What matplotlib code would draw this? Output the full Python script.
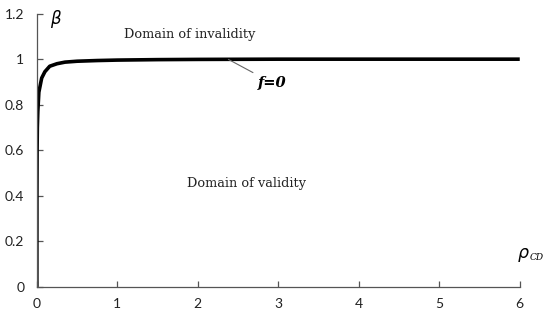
import matplotlib
matplotlib.use('Agg')
import matplotlib.pyplot as plt

# curve f=0
rho = [0, 0.001, 0.003, 0.006, 0.012, 0.025, 0.06, 0.1, 0.16, 0.25, 0.35,
       0.5, 0.75, 1, 1.5, 2, 3, 4, 5, 6]
beta = [0, 0.4, 0.6, 0.7, 0.77, 0.855, 0.917, 0.945, 0.969, 0.98, 0.987,
        0.991, 0.994, 0.996, 0.998, 0.999, 1.0, 1.0, 1.0, 1.0]

x_ticks = [0, 1, 2, 3, 4, 5, 6]
y_ticks = [0, 0.2, 0.4, 0.6, 0.8, 1.0, 1.2]
y_labels = ['0', '0.2', '0.4', '0.6', '0.8', '1', '1.2']

fig = plt.figure(figsize=(5.5, 3.17), dpi=100)
ax = fig.add_axes([0.067, 0.095, 0.878, 0.862])

ax.plot(rho, beta, color='black', lw=2.6, solid_capstyle='butt')

ax.set_xlim(0, 6)
ax.set_ylim(0, 1.2)
ax.set_xticks(x_ticks)
ax.set_xticklabels([str(t) for t in x_ticks])
ax.set_yticks(y_ticks)
ax.set_yticklabels(y_labels)

for s in ['top', 'right']:
    ax.spines[s].set_visible(False)
for s in ['left', 'bottom']:
    ax.spines[s].set_color('#555555')
    ax.spines[s].set_linewidth(0.9)
ax.tick_params(direction='in', length=4, width=0.9, color='#555555',
               labelsize=10, labelcolor='#222222')
ax.tick_params(axis='x', pad=8)
ax.tick_params(axis='y', pad=9)
for lab in ax.get_xticklabels() + ax.get_yticklabels():
    lab.set_family('Lato')

serif = 'DejaVu Serif'
ax.text(0.16, 1.225, r'$\beta$', fontsize=12, ha='left', va='top',
        clip_on=False)
ax.text(5.97, 0.14, r'$\rho$', fontsize=12.5, ha='left', va='center',
        clip_on=False)
ax.text(6.12, 0.13, 'CD', fontsize=6.5, style='italic', family=serif,
        ha='left', va='center', clip_on=False)

ax.text(1.9, 1.11, 'Domain of invalidity', fontsize=9.3, family=serif,
        ha='center', va='center', color='#222222')
ax.text(2.6, 0.455, 'Domain of validity', fontsize=9.3, family=serif,
        ha='center', va='center', color='#222222')

ax.annotate('f=0', xy=(2.38, 0.999), xytext=(2.75, 0.895),
            fontsize=10.5, family=serif, style='italic', weight='bold',
            ha='left', va='center',
            arrowprops=dict(arrowstyle='-', color='#666666', lw=0.8,
                            shrinkA=2, shrinkB=0))

fig.savefig('out.png', dpi=100)
